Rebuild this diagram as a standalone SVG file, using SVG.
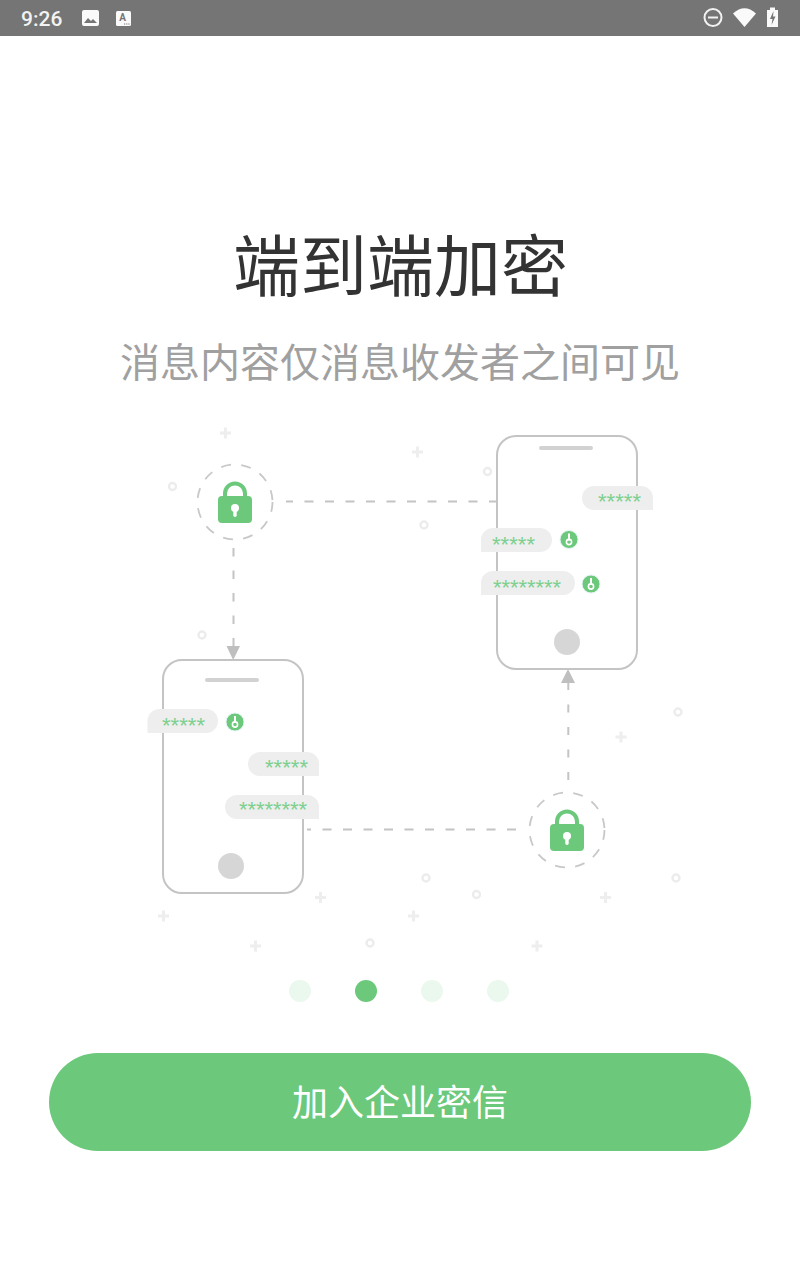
<svg xmlns="http://www.w3.org/2000/svg" width="800" height="1280" viewBox="0 0 800 1280">
<defs>
<style>
.cjk{font-family:"Noto Sans CJK SC","Noto Sans",sans-serif;text-anchor:middle}
.phone{fill:#fff;stroke:#c4c4c4;stroke-width:2}
.bar{fill:#d2d2d2}
.home{fill:#d6d6d6}
.bub{fill:#eeeeee}
.st{font-family:"Liberation Sans",sans-serif;font-size:22px;fill:#7dd08f}
.dash{fill:none;stroke:#c4c4c4;stroke-width:2}
.ring{fill:none;stroke:#c8c8c8;stroke-width:1.8;stroke-dasharray:10 10.3}
.lock{fill:#6cc87a}
.dot{fill:none;stroke:#ececec;stroke-width:2.4}
.plus{stroke:#eeeeee;stroke-width:3;fill:none}
.pg{fill:#ebf8ee}
.head{fill:#bfbfbf}
</style>
<g id="padlock">
<path d="M-10,-5V-8.500a10,10 0 0 1 20,0V-5" fill="none" stroke="#6cc87a" stroke-width="4"/>
<rect x="-17" y="-6" width="34" height="27" rx="4" class="lock"/>
<circle cx="0" cy="6" r="4" fill="#fff"/>
<rect x="-1.700" y="6" width="3.400" height="9" rx="1.700" fill="#fff"/>
</g>
<g id="key">
<circle r="9" fill="#6cc87a" stroke="#e3f3f5" stroke-width="1"/>
<rect x="-1" y="-6" width="2" height="7" fill="#fff"/>
<circle cy="2.500" r="2.600" fill="none" stroke="#fff" stroke-width="1.600"/>
</g>
<path id="plusmark" d="M-5.500,0H5.500M0,-5.500V5.500"/>
</defs>

<rect width="800" height="1280" fill="#fff"/>

<g id="statusbar">
<rect width="800" height="36" fill="#757575"/>
<text x="21" y="26" font-family="Roboto,sans-serif" font-weight="500" font-size="21" fill="#f2f2f2">9:26</text>
<rect x="82" y="10" width="17" height="16" rx="2" fill="#fafafa"/>
<path d="M84,23l4,-5 3,3 2,-2 4,4z" fill="#757575"/>
<rect x="116" y="11" width="15" height="15" rx="1.500" fill="#fafafa"/>
<text x="122.500" y="21" font-family="Roboto,sans-serif" font-weight="700" font-size="10" fill="#757575" text-anchor="middle">A</text>
<path d="M124,24h1.200M126.200,24h1.200M128.400,24h1.200" stroke="#757575" stroke-width="1.200" fill="none"/>
<circle cx="713" cy="17.500" r="8.500" fill="none" stroke="#f2f2f2" stroke-width="2"/>
<rect x="708" y="16.500" width="10" height="2" fill="#f2f2f2"/>
<path d="M733,13.500Q744.500,3 756,13.500L744.500,27z" fill="#fafafa"/>
<path d="M767,10h3v-2.500h5v2.500h3v17h-11z" fill="#fafafa"/>
<path d="M773.500,11l-3.500,8h2.500l-1,6 4,-8.500h-2.500z" fill="#757575"/>
</g>

<g id="title"><text class="cjk" x="400.500" y="291" font-size="67" fill="#333333">端到端加密</text></g>
<g id="subtitle"><text class="cjk" x="400" y="377" font-size="40" fill="#a0a0a0">消息内容仅消息收发者之间可见</text></g>

<g id="decor">
<g class="plus">
<use href="#plusmark" x="225.500" y="433"/>
<use href="#plusmark" x="417.500" y="452"/>
<use href="#plusmark" x="621" y="737"/>
<use href="#plusmark" x="320.500" y="897.500"/>
<use href="#plusmark" x="605.500" y="897.500"/>
<use href="#plusmark" x="163.500" y="916"/>
<use href="#plusmark" x="413.500" y="916"/>
<use href="#plusmark" x="255.500" y="946"/>
<use href="#plusmark" x="537" y="946"/>
</g>
<g class="dot">
<circle cx="172.500" cy="486.500" r="3.500"/>
<circle cx="487.500" cy="471.500" r="3.500"/>
<circle cx="424" cy="525" r="3.500"/>
<circle cx="202" cy="635" r="3.500"/>
<circle cx="678" cy="712" r="3.500"/>
<circle cx="426" cy="878" r="3.500"/>
<circle cx="676" cy="878" r="3.500"/>
<circle cx="476.500" cy="894.500" r="3.500"/>
<circle cx="370" cy="943" r="3.500"/>
</g>
</g>

<g id="connectors">
<path class="dash" stroke-dasharray="9 11.500" d="M498,501.500H286"/>
<path class="dash" stroke-dasharray="8.500 14" d="M233.500,548V648"/>
<path class="head" d="M226.500,646H240L233.200,660z"/>
<path class="dash" stroke-dasharray="9 11.500" d="M516,829.500H307"/>
<path class="dash" stroke-dasharray="8 14.500" d="M568.300,682V780"/>
<path class="head" d="M561,683H575L568,669z"/>
</g>

<g id="phone-right">
<rect class="phone" x="497" y="436" width="140" height="233" rx="19"/>
<rect class="bar" x="539" y="446" width="54" height="4" rx="2"/>
<circle class="home" cx="567" cy="642" r="13"/>
<path class="bub" d="M594,486H641a12,12 0 0 1 12,12V510H594a12,12 0 0 1 0,-24z"/>
<text class="st" x="598" y="509" textLength="43" lengthAdjust="spacing">*****</text>
<path class="bub" d="M481,540a12,12 0 0 1 12,-12H540a12,12 0 0 1 0,24H481z"/>
<text class="st" x="492" y="552" textLength="43" lengthAdjust="spacing">*****</text>
<use href="#key" x="569" y="539.500"/>
<path class="bub" d="M481,583a12,12 0 0 1 12,-12H563a12,12 0 0 1 0,24H481z"/>
<text class="st" x="493" y="595" textLength="68" lengthAdjust="spacing">********</text>
<use href="#key" x="591" y="584"/>
</g>

<g id="phone-left">
<rect class="phone" x="163" y="660" width="140" height="233" rx="19"/>
<rect class="bar" x="205" y="678" width="54" height="4" rx="2"/>
<circle class="home" cx="231" cy="866" r="13"/>
<path class="bub" d="M147.500,721a12,12 0 0 1 12,-12H206a12,12 0 0 1 0,24H147.500z"/>
<text class="st" x="162" y="733" textLength="43" lengthAdjust="spacing">*****</text>
<use href="#key" x="235" y="722"/>
<path class="bub" d="M260,752H307a12,12 0 0 1 12,12V776H260a12,12 0 0 1 0,-24z"/>
<text class="st" x="265" y="775" textLength="43" lengthAdjust="spacing">*****</text>
<path class="bub" d="M237,795H307a12,12 0 0 1 12,12V819H237a12,12 0 0 1 0,-24z"/>
<text class="st" x="239" y="817" textLength="68" lengthAdjust="spacing">********</text>
</g>

<g id="lock-top">
<circle class="ring" cx="235" cy="502" r="37.500"/>
<use href="#padlock" x="235" y="502"/>
</g>
<g id="lock-bottom">
<circle class="ring" cx="567" cy="830" r="37.500"/>
<use href="#padlock" x="567" y="830"/>
</g>

<g id="pager">
<circle class="pg" cx="300" cy="991" r="11"/>
<circle cx="366" cy="991" r="11" fill="#6cc87a"/>
<circle class="pg" cx="432" cy="991" r="11"/>
<circle class="pg" cx="498" cy="991" r="11"/>
</g>

<g id="join-button">
<rect x="49" y="1053" width="702" height="98" rx="49" fill="#6cc87a"/>
<text class="cjk" x="400" y="1116" font-size="36" fill="#fff">加入企业密信</text>
</g>
</svg>
